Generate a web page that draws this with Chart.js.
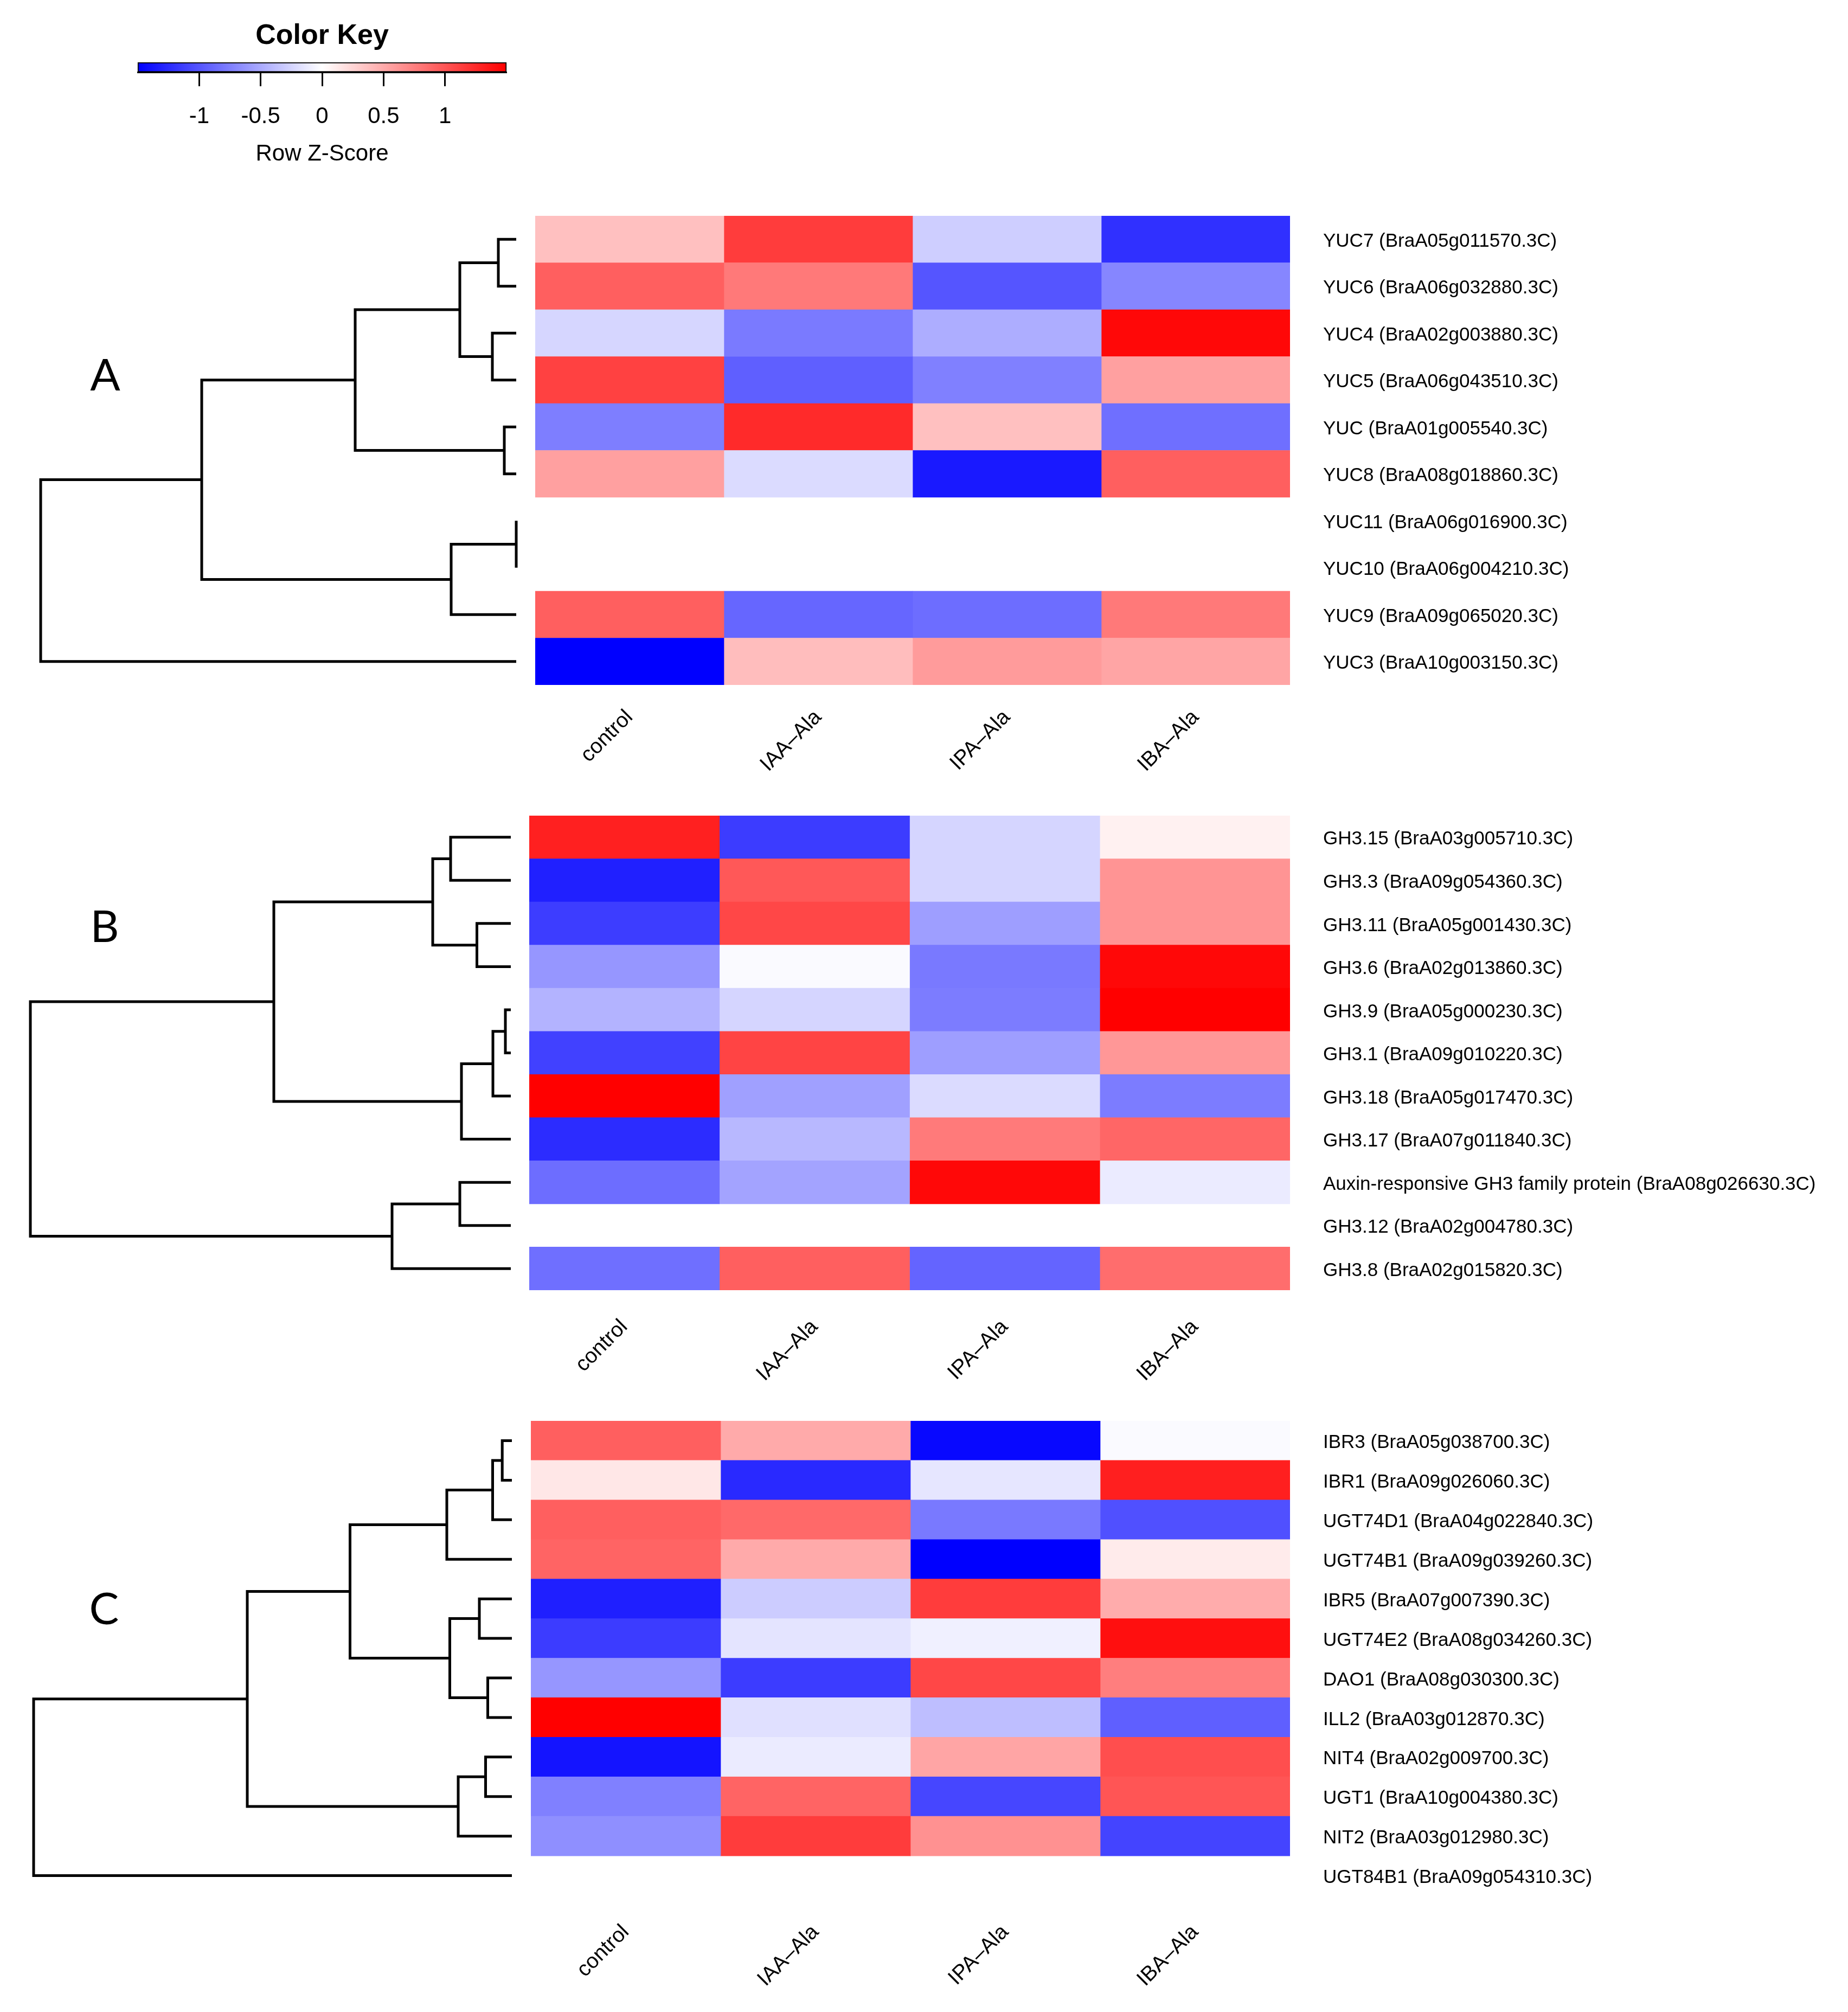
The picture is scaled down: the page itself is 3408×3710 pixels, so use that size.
<!DOCTYPE html>
<html>
<head>
<meta charset="utf-8">
<script src="https://cdn.jsdelivr.net/npm/chart.js@4.4.1/dist/chart.umd.min.js"></script>
<style>
  html, body { margin: 0; padding: 0; background: #fff; }
  #page { position: relative; width: 3408px; height: 3710px; overflow: hidden; background: #fff; }
  canvas { position: absolute; }
  .tag { position: absolute; font-family: Lato, 'Open Sans', sans-serif; font-size: 82px; line-height: 82px; color: #000; transform: translateX(-50%); }
</style>
</head>
<body>
<div id="page">
  <canvas id="key"></canvas>
  <canvas id="dendroA"></canvas><canvas id="heatA"></canvas>
  <canvas id="dendroB"></canvas><canvas id="heatB"></canvas>
  <canvas id="dendroC"></canvas><canvas id="heatC"></canvas>
  <div class="tag" style="left:194px;top:647px">A</div>
  <div class="tag" style="left:193px;top:1664px">B</div>
  <div class="tag" style="left:192px;top:2922px">C</div>
</div>
<script>
// column labels and colour key
const conditions = ['control', 'IAA–Ala', 'IPA–Ala', 'IBA–Ala'];
const keyRange = [-1.5, 1.5];
const keyTicks = [-1, -0.5, 0, 0.5, 1];

// panel A: YUC genes (row z-scores, null = no data)
const genesA = ['YUC7 (BraA05g011570.3C)', 'YUC6 (BraA06g032880.3C)', 'YUC4 (BraA02g003880.3C)',
  'YUC5 (BraA06g043510.3C)', 'YUC (BraA01g005540.3C)', 'YUC8 (BraA08g018860.3C)',
  'YUC11 (BraA06g016900.3C)', 'YUC10 (BraA06g004210.3C)', 'YUC9 (BraA09g065020.3C)',
  'YUC3 (BraA10g003150.3C)'];
const zA = [
  [0.37, 1.15, -0.29, -1.22],
  [0.94, 0.79, -1.0, -0.71],
  [-0.24, -0.78, -0.48, 1.45],
  [1.12, -0.94, -0.75, 0.56],
  [-0.76, 1.25, 0.37, -0.85],
  [0.56, -0.21, -1.35, 0.94],
  null,
  null,
  [0.94, -0.9, -0.86, 0.79],
  [-1.5, 0.39, 0.59, 0.53]
];
// [height, left, right], leaves are row indexes
const treeA = [8.77, [5.80, [2.97, [1.04, [0.33, 0, 1], [0.44, 2, 3]], [0.22, 4, 5]], [1.20, [0, 6, 7], 8]], 9];

// panel B: GH3 genes
const genesB = ['GH3.15 (BraA03g005710.3C)', 'GH3.3 (BraA09g054360.3C)', 'GH3.11 (BraA05g001430.3C)',
  'GH3.6 (BraA02g013860.3C)', 'GH3.9 (BraA05g000230.3C)', 'GH3.1 (BraA09g010220.3C)',
  'GH3.18 (BraA05g017470.3C)', 'GH3.17 (BraA07g011840.3C)',
  'Auxin-responsive GH3 family protein (BraA08g026630.3C)', 'GH3.12 (BraA02g004780.3C)',
  'GH3.8 (BraA02g015820.3C)'];
const zB = [
  [1.31, -1.15, -0.25, 0.08],
  [-1.31, 0.98, -0.25, 0.63],
  [-1.14, 1.08, -0.57, 0.63],
  [-0.62, -0.03, -0.79, 1.45],
  [-0.45, -0.25, -0.77, 1.5],
  [-1.12, 1.1, -0.57, 0.61],
  [1.5, -0.56, -0.21, -0.77],
  [-1.24, -0.42, 0.78, 0.9],
  [-0.86, -0.54, 1.45, -0.12],
  null,
  [-0.85, 0.94, -0.91, 0.86]
];
const treeB = [8.86, [4.37, [1.44, [1.11, 0, 1], [0.625, 2, 3]], [0.91, [0.33, [0.10, 4, 5], 6], 7]], [2.19, [0.94, 8, 9], 10]];

// panel C: IBR / UGT / NIT / other genes
const genesC = ['IBR3 (BraA05g038700.3C)', 'IBR1 (BraA09g026060.3C)', 'UGT74D1 (BraA04g022840.3C)',
  'UGT74B1 (BraA09g039260.3C)', 'IBR5 (BraA07g007390.3C)', 'UGT74E2 (BraA08g034260.3C)',
  'DAO1 (BraA08g030300.3C)', 'ILL2 (BraA03g012870.3C)', 'NIT4 (BraA02g009700.3C)',
  'UGT1 (BraA10g004380.3C)', 'NIT2 (BraA03g012980.3C)', 'UGT84B1 (BraA09g054310.3C)'];
const zC = [
  [0.94, 0.5, -1.45, -0.03],
  [0.14, -1.26, -0.15, 1.32],
  [0.94, 0.88, -0.79, -1.03],
  [0.91, 0.5, -1.5, 0.12],
  [-1.32, -0.3, 1.15, 0.49],
  [-1.15, -0.16, -0.09, 1.41],
  [-0.62, -1.15, 1.08, 0.76],
  [1.5, -0.18, -0.38, -0.94],
  [-1.38, -0.12, 0.53, 1.04],
  [-0.75, 0.91, -1.09, 1.0],
  [-0.66, 1.15, 0.65, -1.1],
  null
];
const treeC = [8.82, [4.88, [2.985, [1.20, [0.355, [0.178, 0, 1], 2], 3], [1.145, [0.60, 4, 5], [0.445, 6, 7]]], [0.99, [0.485, 8, 9], 10]], 11];

const FONT = "'Liberation Sans', Arial, Helvetica, sans-serif";
const LABEL_W = 1000;
const AXIS_H = 200;

const panels = [
  { id: 'A', genes: genesA, z: zA, tree: treeA, dendro: [75, 952], heat: [987, 2379], top: 398, rowH: 86.5, colPad: 37 },
  { id: 'B', genes: genesB, z: zB, tree: treeB, dendro: [56, 942], heat: [976, 2379], top: 1504, rowH: 79.5, colPad: 45 },
  { id: 'C', genes: genesC, z: zC, tree: treeC, dendro: [62, 944], heat: [979, 2379], top: 2620, rowH: 72.9, colPad: 45 }
];

function place(id, left, top, w, h) {
  const c = document.getElementById(id);
  c.width = w; c.height = h;
  c.style.left = left + 'px'; c.style.top = top + 'px';
  c.style.width = w + 'px'; c.style.height = h + 'px';
  return c;
}

function zColor(z) {
  const t = Math.max(-1, Math.min(1, z / keyRange[1]));
  if (t < 0) { const v = Math.round(255 * (1 + t)); return `rgb(${v},${v},255)`; }
  const v = Math.round(255 * (1 - t));
  return `rgb(255,${v},${v})`;
}

function treeSegments(tree) {
  const segs = [];
  function walk(node) {
    if (typeof node === 'number') return { h: 0, y: node + 0.5 };
    const [h, l, r] = node;
    const a = walk(l), b = walk(r);
    segs.push([{ x: a.h, y: a.y }, { x: h, y: a.y }, { x: h, y: b.y }, { x: b.h, y: b.y }]);
    return { h, y: (a.y + b.y) / 2 };
  }
  walk(tree);
  return segs;
}

const quiet = { legend: { display: false }, tooltip: { enabled: false } };

panels.forEach(p => {
  const n = p.genes.length;
  const areaH = Math.round(n * p.rowH);

  // dendrogram
  const pad = 10;
  const dc = place('dendro' + p.id, p.dendro[0] - pad, p.top - pad, p.dendro[1] - p.dendro[0] + 2 * pad, areaH + 2 * pad);
  new Chart(dc, {
    type: 'scatter',
    data: {
      datasets: treeSegments(p.tree).map(s => ({
        data: s, showLine: true, borderColor: '#000', borderWidth: 5,
        pointRadius: 0, clip: false, tension: 0
      }))
    },
    options: {
      responsive: false, animation: false, events: [],
      layout: { padding: pad },
      plugins: quiet,
      scales: {
        x: { type: 'linear', display: false, reverse: true, min: 0, max: p.tree[0] },
        y: { type: 'linear', display: false, reverse: true, min: 0, max: n }
      }
    }
  });

  // heatmap
  const areaW = p.heat[1] - p.heat[0];
  const hc = place('heat' + p.id, p.heat[0], p.top, areaW + LABEL_W, areaH + AXIS_H);
  new Chart(hc, {
    type: 'bar',
    data: {
      labels: p.genes,
      datasets: conditions.map((c, j) => ({
        label: c,
        data: p.z.map(row => (row ? 1 : null)),
        backgroundColor: ctx => zColor(p.z[ctx.dataIndex] ? p.z[ctx.dataIndex][j] : 0),
        borderWidth: 0,
        barPercentage: 1,
        categoryPercentage: 1
      }))
    },
    options: {
      indexAxis: 'y',
      responsive: false, animation: false, events: [],
      layout: { padding: 0 },
      plugins: quiet,
      scales: {
        x: {
          type: 'linear', stacked: true, min: 0, max: conditions.length, position: 'bottom',
          grid: { display: false, drawTicks: false },
          border: { display: false },
          afterBuildTicks: s => { s.ticks = conditions.map((c, j) => ({ value: j + 0.5 })); },
          ticks: {
            autoSkip: false, minRotation: 45, maxRotation: 45, padding: p.colPad,
            color: '#000', font: { family: FONT, size: 39 },
            callback: (v, i) => conditions[i]
          },
          afterFit: s => { s.height = AXIS_H; s.paddingLeft = 0; s.paddingRight = 0; }
        },
        y: {
          stacked: true, position: 'right',
          grid: { display: false, drawTicks: false },
          border: { display: false },
          ticks: { autoSkip: false, padding: 61, labelOffset: 4, color: '#000', font: { family: FONT, size: 35 } },
          afterFit: s => { s.width = LABEL_W; s.paddingTop = 0; s.paddingBottom = 0; }
        }
      }
    }
  });
});

// colour key
const kc = place('key', 250, 0, 688, 320);
new Chart(kc, {
  type: 'bar',
  data: {
    labels: ['key'],
    datasets: [{
      data: [keyRange],
      backgroundColor: ctx => {
        const chart = ctx.chart;
        if (!chart.chartArea) return null;
        const xs = chart.scales.x;
        const g = chart.ctx.createLinearGradient(xs.getPixelForValue(keyRange[0]), 0, xs.getPixelForValue(keyRange[1]), 0);
        g.addColorStop(0, zColor(keyRange[0]));
        g.addColorStop(0.5, zColor(0));
        g.addColorStop(1, zColor(keyRange[1]));
        return g;
      },
      borderColor: '#000', borderWidth: 2, borderSkipped: false,
      barPercentage: 1, categoryPercentage: 1, clip: false
    }]
  },
  options: {
    indexAxis: 'y',
    responsive: false, animation: false, events: [],
    layout: { padding: { left: 4, right: 4 } },
    plugins: {
      ...quiet,
      title: {
        display: true, text: 'Color Key', color: '#000',
        font: { family: FONT, size: 52, weight: 'bold' },
        padding: { top: 35, bottom: 17.6 }
      }
    },
    scales: {
      x: {
        type: 'linear', min: keyRange[0], max: keyRange[1],
        afterBuildTicks: s => { s.ticks = keyTicks.map(v => ({ value: v })); },
        grid: { display: true, drawOnChartArea: false, drawTicks: true, tickLength: 26, tickWidth: 3, tickColor: '#000', color: '#000' },
        border: { display: true, color: '#000', width: 3 },
        ticks: { padding: 31, color: '#000', font: { family: FONT, size: 42 }, callback: v => String(v) },
        title: { display: true, text: 'Row Z-Score', color: '#000', font: { family: FONT, size: 42 }, padding: { top: 0, bottom: 10 } },
        afterFit: s => { s.height = 187; s.paddingLeft = 0; s.paddingRight = 0; }
      },
      y: { display: false }
    }
  }
});
</script>
</body>
</html>
